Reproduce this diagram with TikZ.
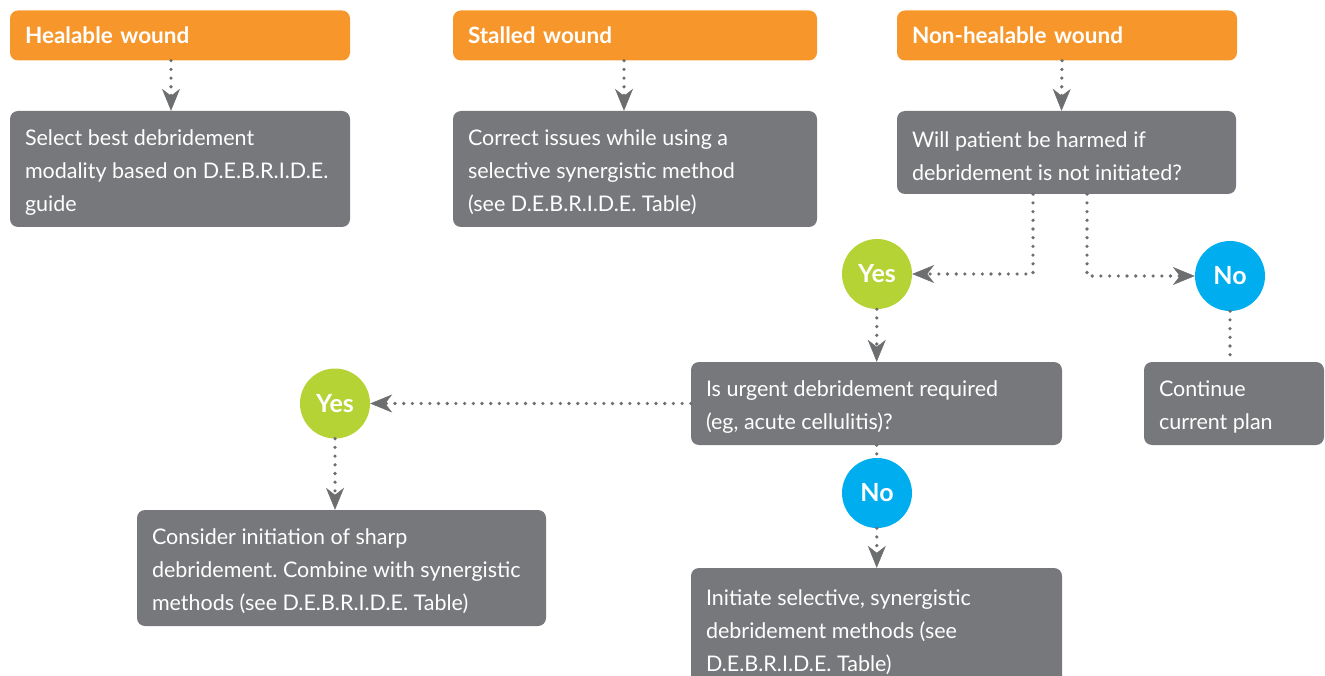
\documentclass[tikz,border=0pt]{standalone}
\usepackage{fontspec}
\setmainfont{Lato}
\frenchspacing
\usetikzlibrary{arrows.meta,calc}
\definecolor{orng}{HTML}{F7972B}
\definecolor{gbox}{HTML}{77787B}
\definecolor{grn}{HTML}{B5D334}
\definecolor{blu}{HTML}{00AEEF}
\definecolor{arr}{HTML}{6D6E70}
\newcommand{\tx}[2]{\raisebox{-3.5pt}[\height][\depth]{\parbox{#1}{\raggedright #2}}}
\tikzset{
  hdr/.style={rectangle, rounded corners=8pt, fill=orng, text=white, font=\fontsize{22.5}{27}\selectfont\bfseries, inner xsep=15pt, inner ysep=0pt, align=left},
  gb/.style={rectangle, rounded corners=8pt, fill=gbox, text=white, font=\fontsize{21.5}{33}\selectfont, inner xsep=15pt, inner ysep=0pt},
  yesc/.style={circle, fill=grn, text=white, font=\fontsize{25}{28}\selectfont\bfseries, minimum size=70pt, inner sep=0pt},
  noc/.style={circle, fill=blu, text=white, font=\fontsize{25}{28}\selectfont\bfseries, minimum size=70pt, inner sep=0pt},
  dotl/.style={draw=arr, line width=3.6pt, line cap=round, dash pattern=on 0pt off 8.7pt},
  arw/.style={dotl, -{Stealth[length=22pt, width=18pt, inset=7pt, line width=0.5pt, fill=arr]}},
}
\begin{document}
\begin{tikzpicture}[x=1pt,y=-1pt]
\useasboundingbox (0,0) rectangle (1325,676);
\clip (0,0) rectangle (1325,676);
% headers
\node[hdr, minimum width=340pt, minimum height=50pt, text width=310pt] (h1) at (180,35.5) {Healable wound};
\node[hdr, minimum width=364pt, minimum height=50pt, text width=334pt] (h2) at (635,35.5) {Stalled wound};
\node[hdr, minimum width=340pt, minimum height=50pt, text width=310pt] (h3) at (1067,35.5) {Non-healable wound};
% grey boxes
\node[gb, minimum width=340pt, minimum height=116pt] (b1) at (180,169) {\tx{310pt}{Select best debridement\\modality based on D.E.B.R.I.D.E.\\guide}};
\node[gb, minimum width=364pt, minimum height=116pt] (b2) at (635,169) {\tx{334pt}{Correct issues while using a\\selective synergistic method\\(see D.E.B.R.I.D.E. Table)}};
\node[gb, minimum width=339pt, minimum height=83pt] (b3) at (1066.5,152.5) {\tx{309pt}{Will patient be harmed if\\debridement is not initiated?}};
\node[yesc] (y1) at (877,274) {Yes};
\node[noc] (n1) at (1230,276) {No};
\node[gb, minimum width=371pt, minimum height=83pt] (urg) at (876.5,403.5) {\tx{341pt}{Is urgent debridement required\\(eg, acute cellulitis)?}};
\node[gb, minimum width=180pt, minimum height=83pt] (cont) at (1234,403.5) {\tx{150pt}{Continue\\current plan}};
\node[yesc] (y2) at (335,403.5) {Yes};
\node[gb, minimum width=409pt, minimum height=116pt] (cons) at (341.5,568) {\tx{379pt}{Consider initiation of sharp\\debridement. Combine with synergistic\\methods (see D.E.B.R.I.D.E. Table)}};
\node[noc] (n2) at (877,493) {No};
\node[gb, minimum width=371pt, minimum height=122pt] (init) at (876.5,629) {\tx{341pt}{Initiate selective, synergistic\\debridement methods (see\\D.E.B.R.I.D.E. Table)}};
% connectors
\draw[arw] ([xshift=-9pt]h1.south) -- ([xshift=-9pt]b1.north);
\draw[arw] ([xshift=-11pt]h2.south) -- ([xshift=-11pt]b2.north);
\draw[arw] ([xshift=-5pt]h3.south) -- ([xshift=-5pt]b3.north);
\coordinate (bl) at ([xshift=-33.5pt]b3.south);
\coordinate (br) at ([xshift=20.5pt]b3.south);
\draw[arw] (bl) |- (y1);
\draw[arw] (br) |- (n1);
\draw[dotl] (n1) -- (n1 |- cont.north);
\draw[arw] (y1) -- (urg);
\draw[arw] (urg) -- (y2);
\draw[arw] (y2) -- (y2 |- cons.north);
\draw[dotl] (urg) -- (n2);
\draw[arw] (n2) -- (init);
\end{tikzpicture}
\end{document}
